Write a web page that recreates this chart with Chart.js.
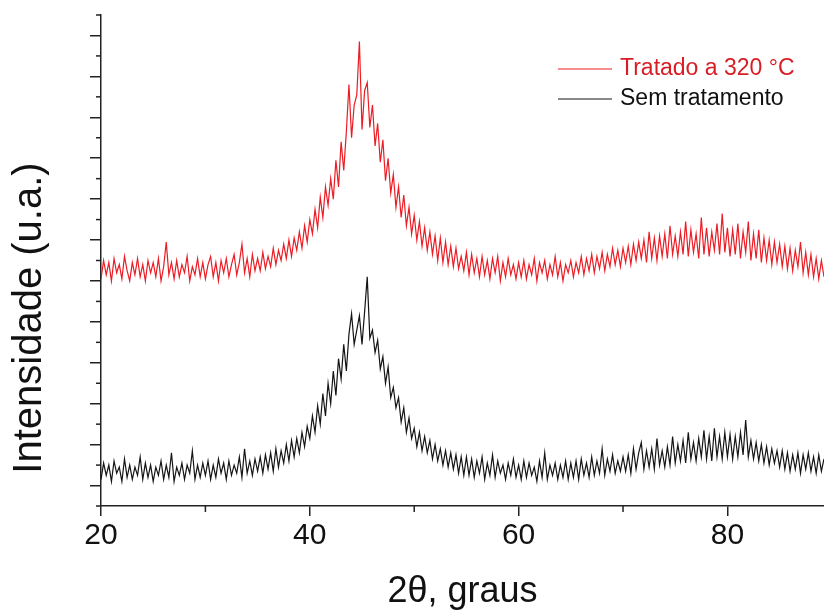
<!DOCTYPE html>
<html>
<head>
<meta charset="utf-8">
<title>DRX - Intensidade x 2θ</title>
<script src="https://cdn.jsdelivr.net/npm/chart.js@4.4.1/dist/chart.umd.min.js"></script>
<style>
    html, body { margin: 0; padding: 0; background: #fff; }
</style>
</head>
<body>
<canvas id="grafico" width="824" height="615"></canvas>
<script>
// Ângulos 2θ (graus) da varredura, passo de 0,25
const angulos = [
    20, 20.25, 20.5, 20.75, 21, 21.25, 21.5, 21.75, 22, 22.25, 22.5, 22.75, 23, 23.25, 23.5, 23.75, 24, 24.25, 24.5, 24.75,
    25, 25.25, 25.5, 25.75, 26, 26.25, 26.5, 26.75, 27, 27.25, 27.5, 27.75, 28, 28.25, 28.5, 28.75, 29, 29.25, 29.5, 29.75,
    30, 30.25, 30.5, 30.75, 31, 31.25, 31.5, 31.75, 32, 32.25, 32.5, 32.75, 33, 33.25, 33.5, 33.75, 34, 34.25, 34.5, 34.75,
    35, 35.25, 35.5, 35.75, 36, 36.25, 36.5, 36.75, 37, 37.25, 37.5, 37.75, 38, 38.25, 38.5, 38.75, 39, 39.25, 39.5, 39.75,
    40, 40.25, 40.5, 40.75, 41, 41.25, 41.5, 41.75, 42, 42.25, 42.5, 42.75, 43, 43.25, 43.5, 43.75, 44, 44.25, 44.5, 44.75,
    45, 45.25, 45.5, 45.75, 46, 46.25, 46.5, 46.75, 47, 47.25, 47.5, 47.75, 48, 48.25, 48.5, 48.75, 49, 49.25, 49.5, 49.75,
    50, 50.25, 50.5, 50.75, 51, 51.25, 51.5, 51.75, 52, 52.25, 52.5, 52.75, 53, 53.25, 53.5, 53.75, 54, 54.25, 54.5, 54.75,
    55, 55.25, 55.5, 55.75, 56, 56.25, 56.5, 56.75, 57, 57.25, 57.5, 57.75, 58, 58.25, 58.5, 58.75, 59, 59.25, 59.5, 59.75,
    60, 60.25, 60.5, 60.75, 61, 61.25, 61.5, 61.75, 62, 62.25, 62.5, 62.75, 63, 63.25, 63.5, 63.75, 64, 64.25, 64.5, 64.75,
    65, 65.25, 65.5, 65.75, 66, 66.25, 66.5, 66.75, 67, 67.25, 67.5, 67.75, 68, 68.25, 68.5, 68.75, 69, 69.25, 69.5, 69.75,
    70, 70.25, 70.5, 70.75, 71, 71.25, 71.5, 71.75, 72, 72.25, 72.5, 72.75, 73, 73.25, 73.5, 73.75, 74, 74.25, 74.5, 74.75,
    75, 75.25, 75.5, 75.75, 76, 76.25, 76.5, 76.75, 77, 77.25, 77.5, 77.75, 78, 78.25, 78.5, 78.75, 79, 79.25, 79.5, 79.75,
    80, 80.25, 80.5, 80.75, 81, 81.25, 81.5, 81.75, 82, 82.25, 82.5, 82.75, 83, 83.25, 83.5, 83.75, 84, 84.25, 84.5, 84.75,
    85, 85.25, 85.5, 85.75, 86, 86.25, 86.5, 86.75, 87, 87.25, 87.5, 87.75, 88, 88.25, 88.5, 88.75, 89, 89.25
];

// Amostra tratada a 320 °C (curva deslocada para cima)
const tratado320 = [
    11.1, 12.0, 11.3, 11.9, 11.0, 12.1, 11.4, 11.8, 11.1, 12.2, 11.5, 11.0, 11.9, 11.3, 12.1, 11.2, 11.8, 11.0, 12.0, 11.4,
    11.9, 11.2, 12.1, 11.0, 11.7, 12.9, 11.3, 11.9, 11.1, 12.0, 11.2, 11.8, 11.4, 12.2, 11.0, 11.7, 11.3, 12.1, 11.2, 11.9,
    11.1, 11.8, 12.2, 11.2, 11.9, 11.0, 12.0, 11.4, 12.1, 11.2, 11.8, 12.3, 11.3, 11.9, 12.8, 11.4, 12.1, 11.2, 12.3, 11.5,
    12.1, 11.5, 12.4, 11.6, 12.2, 11.7, 12.6, 11.8, 12.5, 12.0, 12.8, 12.1, 13.0, 12.2, 13.1, 12.5, 13.4, 12.6, 13.7, 12.9,
    14.0, 13.3, 14.5, 13.6, 15.1, 14.1, 15.6, 14.7, 16.0, 15.0, 16.9, 15.6, 17.8, 16.4, 18.3, 20.6, 18.0, 19.6, 20.1, 22.7,
    18.4, 20.3, 20.7, 18.5, 19.6, 17.6, 18.7, 16.8, 17.9, 15.9, 17.0, 15.3, 16.2, 14.6, 15.6, 14.1, 15.2, 13.7, 14.6, 13.3,
    14.2, 13.0, 13.9, 12.7, 13.6, 12.5, 13.4, 12.3, 13.2, 12.0, 13.1, 11.9, 12.9, 11.8, 12.7, 11.7, 12.6, 11.6, 12.2, 11.5,
    12.4, 11.3, 12.3, 11.4, 12.1, 11.2, 12.2, 11.3, 12.0, 11.1, 12.1, 11.4, 12.2, 11.0, 11.9, 11.2, 12.1, 11.3, 11.8, 11.1,
    11.9, 11.2, 12.0, 11.1, 11.8, 11.3, 12.1, 11.0, 11.9, 11.4, 12.0, 11.1, 11.8, 11.3, 12.2, 11.2, 11.9, 11.0, 11.8, 11.4,
    12.0, 11.2, 11.9, 11.4, 12.2, 11.3, 12.1, 11.5, 12.3, 11.4, 12.2, 11.6, 12.4, 11.5, 12.3, 11.7, 12.6, 11.8, 12.5, 11.7,
    12.6, 11.9, 12.7, 11.8, 12.8, 12.0, 12.9, 12.1, 13.0, 11.9, 13.4, 12.1, 13.1, 12.0, 13.2, 12.2, 13.3, 12.1, 13.7, 12.3,
    13.2, 12.2, 13.4, 12.3, 13.9, 12.2, 13.5, 12.4, 13.3, 12.1, 14.1, 12.3, 13.6, 12.2, 13.4, 12.5, 13.8, 12.3, 14.3, 12.4,
    13.6, 12.2, 13.5, 12.3, 13.8, 12.1, 13.4, 12.4, 13.9, 12.0, 13.3, 12.1, 13.5, 11.9, 13.1, 12.0, 13.0, 11.8, 12.9, 11.9,
    12.8, 11.7, 12.7, 11.6, 12.6, 11.5, 12.5, 11.7, 12.9, 11.4, 12.4, 11.3, 12.3, 11.2, 12.1, 11.1, 12.0, 11.2
];

// Amostra sem tratamento
const semTratamento = [
    1.3, 2.1, 1.5, 2.0, 1.2, 2.2, 1.6, 1.9, 1.2, 2.3, 1.4, 2.0, 1.3, 1.9, 1.5, 2.4, 1.3, 2.1, 1.4, 2.0,
    1.2, 1.9, 1.5, 2.2, 1.3, 2.0, 1.4, 2.6, 1.2, 1.9, 1.5, 2.1, 1.3, 2.0, 1.6, 2.7, 1.3, 2.0, 1.4, 2.1,
    1.5, 2.2, 1.3, 2.0, 1.4, 2.3, 1.6, 2.1, 1.3, 2.2, 1.5, 2.0, 1.6, 2.4, 1.4, 2.8, 1.6, 2.2, 1.5, 2.3,
    1.7, 2.4, 1.6, 2.5, 1.8, 2.6, 1.7, 2.8, 1.9, 2.7, 2.1, 3.0, 2.2, 3.2, 2.4, 3.3, 2.6, 3.6, 2.9, 3.9,
    3.3, 4.4, 3.6, 4.9, 4.0, 5.5, 4.4, 6.0, 5.0, 6.6, 5.4, 7.2, 6.2, 7.9, 6.6, 8.4, 9.4, 7.9, 8.6, 9.3,
    7.9, 9.5, 11.2, 8.2, 8.6, 7.5, 8.1, 6.7, 7.3, 6.0, 6.8, 5.3, 5.8, 4.8, 5.3, 4.1, 4.8, 3.6, 4.3, 3.3,
    3.8, 2.9, 3.6, 2.7, 3.4, 2.6, 3.2, 2.3, 3.0, 2.2, 2.8, 2.0, 2.7, 1.9, 2.6, 1.8, 2.5, 1.6, 2.4, 1.5,
    2.4, 1.5, 2.3, 1.4, 2.2, 1.6, 2.4, 1.3, 2.1, 1.5, 2.5, 1.4, 2.2, 1.6, 2.0, 1.3, 2.1, 1.5, 2.3, 1.4,
    2.0, 1.3, 2.2, 1.4, 2.1, 1.5, 1.9, 1.2, 2.2, 1.4, 2.6, 1.3, 2.0, 1.5, 2.1, 1.3, 2.0, 1.4, 2.2, 1.3,
    2.1, 1.4, 2.2, 1.3, 2.3, 1.5, 2.1, 1.4, 2.4, 1.5, 2.2, 1.6, 2.8, 1.5, 2.3, 1.7, 2.5, 1.6, 2.2, 1.7,
    2.4, 1.7, 2.5, 1.6, 2.8, 1.8, 2.6, 3.1, 1.8, 2.7, 1.9, 2.8, 1.8, 3.3, 2.0, 2.7, 1.9, 2.9, 2.0, 3.4,
    2.1, 3.0, 2.2, 3.2, 2.1, 3.6, 2.3, 3.1, 2.2, 3.3, 2.4, 3.7, 2.3, 3.4, 2.2, 3.8, 2.4, 3.4, 2.3, 3.6,
    2.4, 3.5, 2.3, 3.4, 2.4, 3.6, 2.5, 4.2, 2.4, 3.2, 2.3, 3.1, 2.2, 3.0, 2.1, 2.9, 2.0, 2.8, 2.1, 2.7,
    1.9, 2.7, 1.8, 2.6, 1.7, 2.5, 1.8, 2.6, 1.6, 2.5, 1.8, 2.6, 1.7, 2.4, 1.6, 2.5, 1.7, 2.3
];

// Marcas dos eixos (o eixo y não tem rótulos, só marcas)
const xTicksMaiores = [20, 40, 60, 80];
const xTicksMenores = [30, 50, 70];
const yTicksMaiores = [1, 3, 5, 7, 9, 11, 13, 15, 17, 19, 21, 23];
const yTicksMenores = [0, 2, 4, 6, 8, 10, 12, 14, 16, 18, 20, 22, 24];

const nomesSeries = ['Tratado a 320 \u00B0C', 'Sem tratamento'];
const corVermelha = 'rgb(236, 28, 36)';
const corPreta = '#151515';
const fonte = '"Liberation Sans", Arial, Helvetica, sans-serif';

// Plugin: marcas menores, título do eixo y e legenda
const extras = {
    id: 'extras',
    afterDraw: function (chart) {
        const ctx = chart.ctx;
        const sx = chart.scales.x;
        const sy = chart.scales.y;
        const area = chart.chartArea;

        ctx.save();
        ctx.strokeStyle = '#222';
        ctx.lineWidth = 1.5;
        yTicksMenores.forEach(function (v) {
            const py = sy.getPixelForValue(v);
            ctx.beginPath();
            ctx.moveTo(area.left - 5, py);
            ctx.lineTo(area.left, py);
            ctx.stroke();
        });
        xTicksMenores.forEach(function (v) {
            const px = sx.getPixelForValue(v);
            ctx.beginPath();
            ctx.moveTo(px, area.bottom);
            ctx.lineTo(px, area.bottom + 6);
            ctx.stroke();
        });
        ctx.restore();

        // Título do eixo y
        ctx.save();
        ctx.translate(30, 318);
        ctx.rotate(-Math.PI / 2);
        ctx.font = '40px ' + fonte;
        ctx.fillStyle = '#111';
        ctx.textAlign = 'center';
        ctx.textBaseline = 'middle';
        ctx.fillText('Intensidade (u.a.)', 0, 0);
        ctx.restore();

        // Legenda
        ctx.save();
        ctx.font = '23px ' + fonte;
        ctx.textBaseline = 'middle';
        chart.data.datasets.forEach(function (ds, i) {
            const yy = 69 + i * 30;
            const x0 = area.right - 266;
            ctx.strokeStyle = ds.borderColor;
            ctx.lineWidth = 1.2;
            ctx.beginPath();
            ctx.moveTo(x0, yy);
            ctx.lineTo(x0 + 54, yy);
            ctx.stroke();
            ctx.fillStyle = i === 0 ? 'rgb(214, 30, 36)' : '#111';
            ctx.fillText(ds.label, x0 + 62, yy);
        });
        ctx.restore();
    }
};

const ctx = document.getElementById('grafico').getContext('2d');
const grafico = new Chart(ctx, {
    type: 'line',
    data: {
        labels: angulos,
        datasets: [
            {
                label: nomesSeries[0],
                data: tratado320,
                borderColor: corVermelha,
                borderWidth: 1.2,
                pointRadius: 0,
                tension: 0,
                fill: false
            },
            {
                label: nomesSeries[1],
                data: semTratamento,
                borderColor: corPreta,
                borderWidth: 1.2,
                pointRadius: 0,
                tension: 0,
                fill: false
            }
        ]
    },
    options: {
        responsive: false,
        animation: false,
        layout: { padding: { top: 15, right: 0, left: 0, bottom: 0 } },
        plugins: {
            legend: { display: false },
            tooltip: { enabled: false }
        },
        scales: {
            x: {
                type: 'linear',
                min: 20,
                max: 89.25,
                afterBuildTicks: function (s) {
                    s.ticks = xTicksMaiores.map(function (v) { return { value: v }; });
                },
                afterFit: function (s) { s.height = 109; },
                grid: { drawOnChartArea: false, tickLength: 10, color: '#222', lineWidth: 1.5 },
                border: { color: '#222', width: 1.5 },
                ticks: {
                    color: '#111',
                    font: { family: fonte, size: 30 },
                    padding: 2,
                    maxRotation: 0
                },
                title: {
                    display: true,
                    text: '2\u03B8, graus',
                    color: '#111',
                    font: { family: fonte, size: 36 },
                    padding: { top: 0, bottom: 1 }
                }
            },
            y: {
                type: 'linear',
                min: 0,
                max: 24,
                afterBuildTicks: function (s) {
                    s.ticks = yTicksMaiores.map(function (v) { return { value: v }; });
                },
                afterFit: function (s) { s.width = 101; },
                grid: { drawOnChartArea: false, tickLength: 11, color: '#222', lineWidth: 1.5 },
                border: { color: '#222', width: 1.5 },
                ticks: { display: false }
            }
        }
    },
    plugins: [extras]
});
</script>
</body>
</html>
